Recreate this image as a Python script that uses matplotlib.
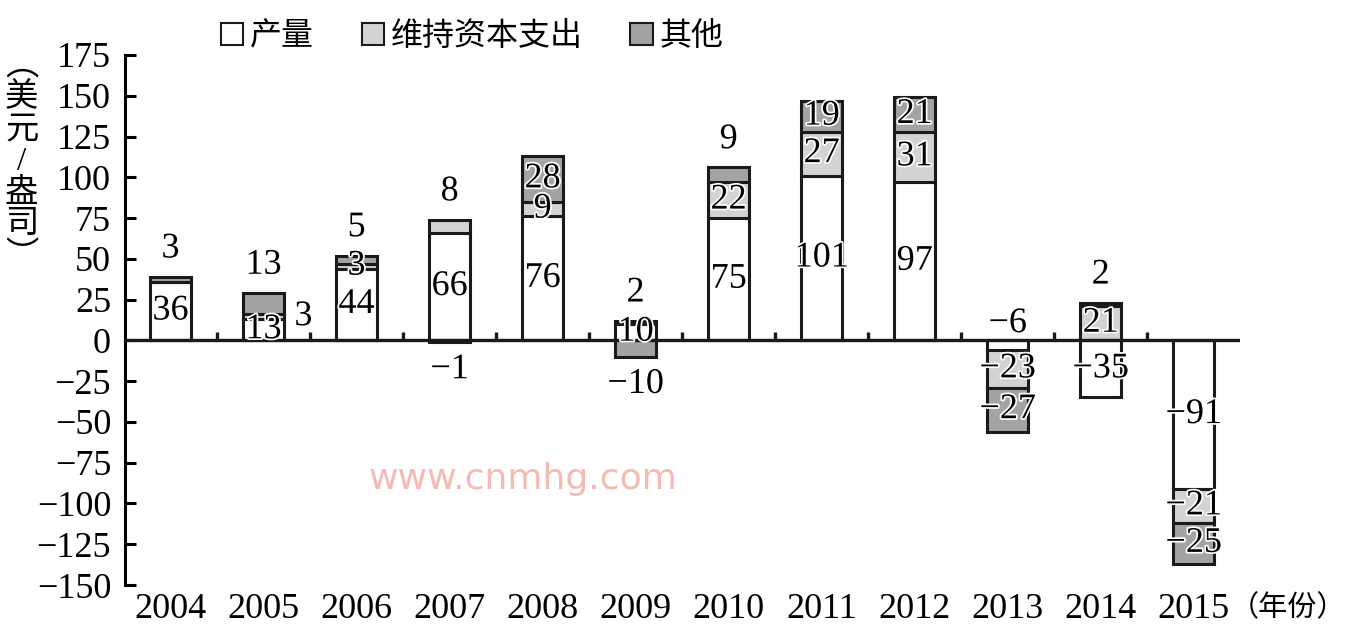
import numpy as np
import matplotlib
matplotlib.use("Agg")
import matplotlib.pyplot as plt
from matplotlib.patches import Patch
import matplotlib.patheffects as pe

plt.rcParams['font.family'] = ['Liberation Serif', 'Noto Sans CJK SC']

years = ['2004', '2005', '2006', '2007', '2008', '2009', '2010', '2011', '2012', '2013', '2014', '2015']
series_names = ['产量', '维持资本支出', '其他']
output = [36, 13, 44, 66, 76, 10, 75, 101, 97, -6, -35, -91]
capex = [0, 3, 3, 8, 9, 2, 22, 27, 31, -23, 21, -21]
other = [3, 13, 5, -1, 28, -10, 9, 19, 21, -27, 2, -25]
y_ticks = [175, 150, 125, 100, 75, 50, 25, 0, -25, -50, -75, -100, -125, -150]

colors = ['white', '#d3d3d3', '#a3a3a3']
# labels drawn outside the segment: (series, year index) -> where
label_pos = {(2, 0): 'top', (2, 1): 'top', (1, 1): 'right', (2, 2): 'top',
             (1, 3): 'top', (2, 3): 'bottom', (1, 5): 'top', (2, 5): 'bottom',
             (2, 6): 'top', (0, 9): 'zero', (2, 10): 'top'}

fig = plt.figure(figsize=(13.54, 6.39), dpi=100)
ax = fig.add_axes([0.0923, 0.0845, 0.8237, 0.8295])

x = np.arange(len(years))
data = np.array([output, capex, other], dtype=float)
pos_base = np.zeros(len(years))
neg_base = np.zeros(len(years))
halo = [pe.withStroke(linewidth=2.5, foreground='white')]
segs = []
for i, vals in enumerate(data):
    bottoms = np.where(vals >= 0, pos_base, neg_base)
    ax.bar(x, vals, width=0.44, bottom=bottoms, color=colors[i],
           edgecolor='#1a1a1a', linewidth=2.2, zorder=3)
    segs.append((vals.copy(), bottoms.copy()))
    pos_base = pos_base + np.where(vals >= 0, vals, 0)
    neg_base = neg_base + np.where(vals < 0, vals, 0)

for i, (vals, bottoms) in enumerate(segs):
    for j, v in enumerate(vals):
        if v == 0:
            continue
        txt = str(int(v)).replace('-', '\u2212')
        where = label_pos.get((i, j), 'mid')
        kw = dict(fontsize=26, ha='center', va='center', zorder=5, path_effects=halo)
        if where == 'mid':
            ax.text(x[j], bottoms[j] + v / 2, txt, **kw)
        elif where == 'top':
            ax.annotate(txt, (x[j], pos_base[j]), xytext=(0, 20),
                        textcoords='offset points', **kw)
        elif where == 'bottom':
            ax.annotate(txt, (x[j], neg_base[j]), xytext=(0, -20),
                        textcoords='offset points', **kw)
        elif where == 'zero':
            ax.annotate(txt, (x[j], 0), xytext=(0, 12),
                        textcoords='offset points', **kw)
        elif where == 'right':
            ax.annotate(txt, (x[j] + 0.22, bottoms[j] + v / 2), xytext=(14, 0),
                        textcoords='offset points', **kw)

ax.set_xlim(-0.49, 11.5)
ax.set_ylim(-150, 175)
ax.set_yticks(y_ticks)
ax.set_yticklabels([str(t).replace('-', '\u2212') for t in y_ticks], fontsize=26)
ax.tick_params(axis='y', direction='in', length=8, width=2.2, pad=10)
ax.set_xticks(x)
ax.set_xticklabels(years, fontsize=26)
ax.tick_params(axis='x', length=0, pad=6)
for s in ['top', 'right', 'bottom']:
    ax.spines[s].set_visible(False)
ax.spines['left'].set_linewidth(2.2)
ax.axhline(0, color='#1a1a1a', linewidth=2.4, zorder=4)
ax.vlines(x[:-1] + 0.5, 0, 5, color='#1a1a1a', linewidth=2.4, zorder=4)

fig.text(0.908, 0.048, '（年份）', fontsize=21, ha='left', va='center')
fig.text(0.016, 0.92, '\n'.join('︵美元/盎司︶'), fontsize=24, ha='center',
         va='top', linespacing=1.05)
fig.text(0.272, 0.235, 'www.cnmhg.com', fontsize=26, color='#f3a99f',
         family='DejaVu Sans', alpha=0.8)

handles = [Patch(facecolor=c, edgecolor='#1a1a1a', linewidth=1.5) for c in colors]
fig.legend(handles, series_names, loc='upper left', bbox_to_anchor=(0.142, 1.01),
           ncol=3, frameon=False, fontsize=23, handlelength=0.7, handleheight=0.7,
           handletextpad=0.2, columnspacing=1.5)

fig.savefig('out.png', dpi=100)
